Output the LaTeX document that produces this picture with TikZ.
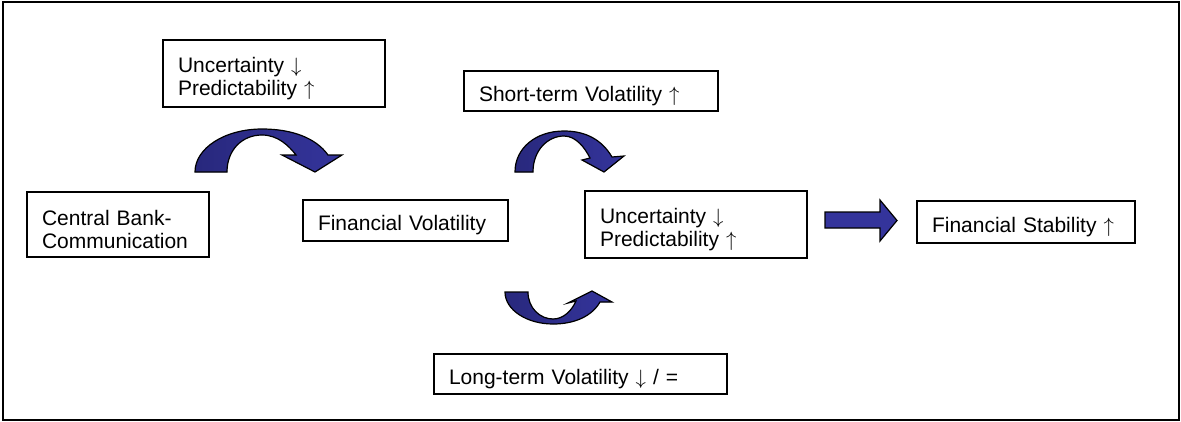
\documentclass[tikz,border=0pt]{standalone}
\usepackage{fontspec}
\setmainfont{Liberation Sans}
\definecolor{arrowblue}{RGB}{52,52,155}
\definecolor{arrowdark}{RGB}{40,40,125}
\newcommand{\upar}{\ensuremath{\uparrow}}
\newcommand{\dnar}{\ensuremath{\downarrow}}
\begin{document}
\begin{tikzpicture}[x=1pt,y=-1pt,
  box/.style={draw=black,line width=1.6pt,fill=white,inner xsep=15pt,inner ysep=0pt,
    align=left,font=\fontsize{21}{23}\selectfont,execute at begin node={\rule{0pt}{25pt}}},
  blockarrow/.style={draw=black,line width=1.2pt,fill=arrowblue,line join=miter},
  curvedarrow/.style={blockarrow,left color=arrowdark,right color=arrowblue}]
\useasboundingbox (0,0) rectangle (1181,421);
\draw[line width=2pt] (3,1.5) rectangle (1178.5,419.5);

\node[box,text width=192pt,minimum height=67pt] (unc1) at (274,73.5) {Uncertainty \dnar\\Predictability \upar};
\node[box,text width=224pt,minimum height=40pt] (short) at (591,91) {Short-term Volatility \upar};
\node[box,text width=152pt,minimum height=65pt] (cbc) at (118,224.5) {Central Bank-\\Communication};
\node[box,text width=175pt,minimum height=41pt] (finvol) at (405.5,220.5) {Financial Volatility};
\node[box,text width=192pt,minimum height=67pt] (unc2) at (696,224.5) {Uncertainty \dnar\\Predictability \upar};
\node[box,text width=188pt,minimum height=42pt] (finstab) at (1026,222) {Financial Stability \upar};
\node[box,text width=263pt,minimum height=40pt] (long) at (580.5,374) {Long-term Volatility \dnar{} / =};

% curved arrow 1
\draw[curvedarrow] (195,172) -- (227,172) .. controls (227,150) and (242,135) .. (262,135)
  .. controls (278,135) and (289,146) .. (296,155) -- (282,155) -- (315,172) -- (342,155) -- (328,155)
  .. controls (316,138) and (292,129) .. (262,129) .. controls (225,129) and (195,148) .. (195,172) -- cycle;
% curved arrow 2
\draw[curvedarrow] (515,172) -- (533,172) .. controls (533,150) and (548,136) .. (564,136)
  .. controls (576,136) and (585,148) .. (590,158) -- (582,160) -- (604,172) -- (624,156) -- (612,157)
  .. controls (602,140) and (586,131) .. (564,131) .. controls (536,131) and (515,148) .. (515,172) -- cycle;
% curved arrow 3
\draw[curvedarrow] (505,292) -- (528,292) .. controls (528,308) and (540,319) .. (553,319)
  .. controls (564,319) and (572,310) .. (576,301) -- (568,303) -- (592,291) -- (612,302) -- (600,302)
  .. controls (592,316) and (575,324) .. (553,324) .. controls (527,324) and (505,310) .. (505,292) -- cycle;
% straight arrow
\draw[blockarrow] (825,212) -- (880,212) -- (880,200) -- (897,220.5) -- (880,241) -- (880,228) -- (825,228) -- cycle;
\end{tikzpicture}
\end{document}
